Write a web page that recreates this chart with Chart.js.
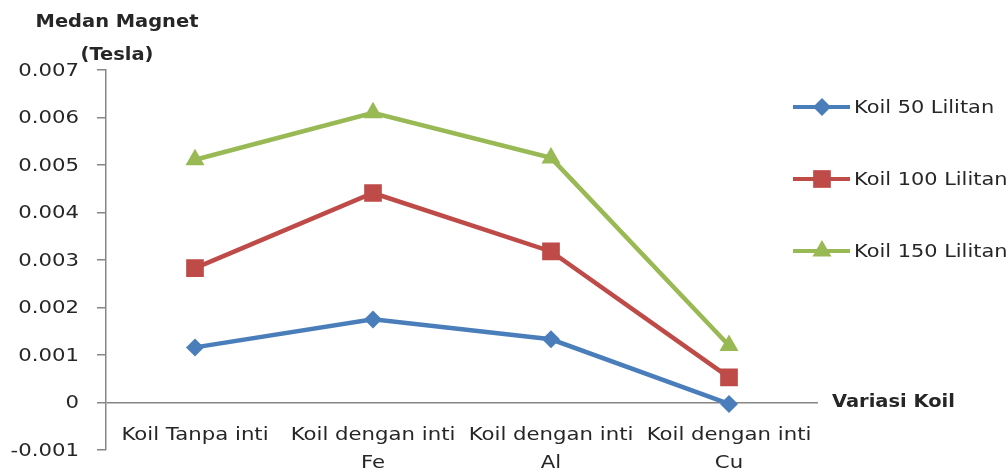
<!DOCTYPE html>
<html>
<head>
<meta charset="utf-8">
<script src="https://cdn.jsdelivr.net/npm/chart.js@4/dist/chart.umd.min.js"></script>
<style>
    body { margin: 0; background: #fff; }
    #wrap { width: 1008px; height: 474px; position: relative; }
</style>
</head>
<body>
<div id="wrap"><canvas id="chart"></canvas></div>
<script>
// categories and series
const categories = [
    ['Koil Tanpa inti'],
    ['Koil dengan inti', 'Fe'],
    ['Koil dengan inti', 'Al'],
    ['Koil dengan inti', 'Cu']
];
const seriesNames = ['Koil 50 Lilitan', 'Koil 100 Lilitan', 'Koil 150 Lilitan'];
const koil50 = [0.00116, 0.00175, 0.00133, -0.00003];
const koil100 = [0.00283, 0.00441, 0.00318, 0.00053];
const koil150 = [0.00511, 0.00610, 0.00515, 0.00120];
const yTicks = { min: -0.001, max: 0.007, step: 0.001 };

const FONT = '"DejaVu Sans", Verdana, sans-serif';
const TEXT = '#262626';
const AXIS = '#868686';
const STRETCH = 1.18; // the original text is a bit wider than DejaVu

function makeSet(label, data, color, style, radius) {
    return {
        label: label,
        data: data,
        borderColor: color,
        backgroundColor: color,
        borderWidth: 4.5,
        pointStyle: style,
        pointRadius: radius,
        pointHoverRadius: radius,
        pointBorderWidth: 0,
        tension: 0
    };
}

function fmtTick(v) {
    const s = (+v).toFixed(3);
    return (s === '0.000' || s === '-0.000') ? '0' : s;
}

// draw text squeezed/stretched horizontally
function wideText(ctx, text, x, y, sx) {
    ctx.save();
    ctx.translate(x, y);
    ctx.scale(sx, 1);
    ctx.fillText(text, 0, 0);
    ctx.restore();
}

// y tick labels and x labels (x labels sit just above the plot bottom, like the original)
const axisLabels = {
    id: 'axisLabels',
    afterDraw(chart) {
        const ctx = chart.ctx;
        const xs = chart.scales.x;
        const ys = chart.scales.y;
        const bottom = chart.chartArea.bottom;
        ctx.save();
        ctx.font = '18px ' + FONT;
        ctx.fillStyle = TEXT;
        ctx.textBaseline = 'middle';

        ctx.textAlign = 'right';
        ys.ticks.forEach(t => {
            wideText(ctx, fmtTick(t.value), 79, ys.getPixelForValue(t.value) + 1, STRETCH);
        });

        ctx.textAlign = 'center';
        categories.forEach((lines, i) => {
            const x = xs.getPixelForValue(i);
            lines.forEach((line, j) => {
                wideText(ctx, line, x, bottom - 15 + j * 28, STRETCH);
            });
        });
        ctx.restore();
    }
};

// axis titles and the legend on the right
const titlesAndLegend = {
    id: 'titlesAndLegend',
    afterDraw(chart) {
        const ctx = chart.ctx;
        const area = chart.chartArea;
        const ys = chart.scales.y;
        ctx.save();
        ctx.fillStyle = TEXT;
        ctx.font = 'bold 18px ' + FONT;
        ctx.textAlign = 'center';
        ctx.textBaseline = 'middle';
        wideText(ctx, 'Medan Magnet', 117, 22, 1.08);
        wideText(ctx, '(Tesla)', 117, 55, 1.08);
        ctx.textAlign = 'left';
        wideText(ctx, 'Variasi Koil', area.right + 14, ys.getPixelForValue(0), 1.08);

        ctx.font = '18px ' + FONT;
        chart.data.datasets.forEach((ds, i) => {
            const y = 107 + i * 72;
            ctx.strokeStyle = ds.borderColor;
            ctx.lineWidth = 4;
            ctx.beginPath();
            ctx.moveTo(793, y);
            ctx.lineTo(850, y);
            ctx.stroke();
            ctx.fillStyle = ds.backgroundColor;
            Chart.helpers.drawPoint(ctx, {
                pointStyle: ds.pointStyle,
                radius: ds.pointRadius,
                borderWidth: 0,
                rotation: 0
            }, 822, y);
            ctx.fillStyle = TEXT;
            wideText(ctx, ds.label, 854, y + 1, 1.16);
        });
        ctx.restore();
    }
};

new Chart(document.getElementById('chart'), {
    type: 'line',
    data: {
        labels: categories.map(c => c.join(' ')),
        datasets: [
            makeSet(seriesNames[0], koil50, '#4A7EBB', 'rectRot', 9),
            makeSet(seriesNames[1], koil100, '#BE4B48', 'rect', 12.5),
            makeSet(seriesNames[2], koil150, '#98B954', 'triangle', 11)
        ]
    },
    options: {
        responsive: true,
        maintainAspectRatio: false,
        animation: false,
        layout: {
            padding: { left: 0, top: 70, right: 190, bottom: 24 }
        },
        plugins: {
            legend: { display: false },
            tooltip: { enabled: false }
        },
        scales: {
            x: {
                display: false,
                offset: true
            },
            y: {
                min: yTicks.min,
                max: yTicks.max,
                afterFit(scale) { scale.width = 106; },
                border: { display: true, color: AXIS, width: 1.5 },
                grid: {
                    color: c => Math.abs(c.tick.value) < 1e-9 ? AXIS : 'rgba(0,0,0,0)',
                    lineWidth: 1.5,
                    tickColor: AXIS,
                    tickLength: 9,
                    drawTicks: true
                },
                ticks: {
                    stepSize: yTicks.step,
                    display: false
                }
            }
        }
    },
    plugins: [axisLabels, titlesAndLegend]
});
</script>
</body>
</html>
